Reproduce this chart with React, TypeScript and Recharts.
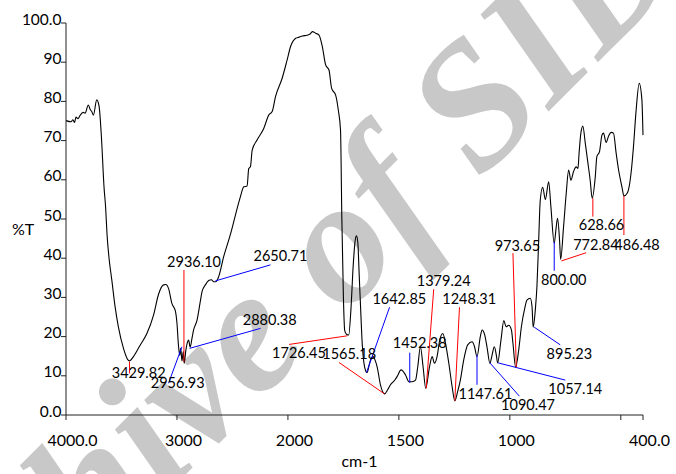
import React from "react";
import {
  ComposedChart,
  Line,
  XAxis,
  YAxis,
  ReferenceLine,
  ReferenceDot,
  Label,
} from "recharts";

// FTIR spectrum (cm-1, %T)
const wavenumbers = [
  4000, 3955, 3937, 3923, 3910, 3892, 3874, 3846, 3828, 3799, 3783, 3768, 3753, 3723, 3702,
  3681, 3657, 3643, 3630, 3612, 3587, 3557, 3528, 3482, 3445, 3430, 3392, 3332, 3271, 3211,
  3166, 3121, 3100, 3076, 3045, 3015, 3000, 2986, 2975, 2966, 2955, 2943, 2935, 2920, 2905,
  2895, 2881, 2865, 2850, 2819, 2790, 2774, 2744, 2714, 2690, 2668, 2650, 2624, 2579, 2519,
  2473, 2428, 2398, 2368, 2353, 2338, 2322, 2277, 2218, 2173, 2142, 2112, 2052, 2007,
  1988, 1965, 1950, 1935, 1913, 1900, 1890, 1875, 1860, 1845, 1830, 1815, 1803, 1785, 1773,
  1763, 1757, 1750, 1744, 1736, 1726, 1716, 1706, 1697, 1691, 1685, 1679, 1673, 1665, 1658,
  1650, 1643, 1635, 1628, 1616, 1606, 1598, 1583, 1565, 1550, 1538, 1520, 1508, 1490, 1470,
  1455, 1440, 1425, 1415, 1403, 1391, 1379, 1362, 1350, 1340, 1328, 1316, 1302, 1290, 1275,
  1260, 1248, 1235, 1223, 1208, 1190, 1170, 1160, 1148, 1133, 1125, 1113, 1103, 1090, 1080,
  1070, 1061, 1055, 1040, 1027, 1017, 1005, 993, 986, 974, 960, 948, 933, 923, 908,
  900, 895, 885, 878, 870, 863, 852, 840, 825, 815, 800, 791, 785, 776, 771,
  758, 746, 735, 725, 713, 701, 693, 688, 680, 671, 660, 648, 638, 629, 615,
  608, 596, 585, 578, 566, 555, 543, 533, 521, 510, 495, 486, 470, 454, 443,
  432, 417, 405, 400,
];

const transmittance = [
  75.1, 74.8, 75.3, 74.6, 76.0, 75.6, 76.4, 77.2, 77.0, 79.1, 78.0, 77.4, 76.5, 80.4, 78.8,
  71.0, 58.0, 53.0, 46.0, 40.0, 34.4, 27.5, 22.5, 17.0, 14.2, 13.8, 14.9, 17.8, 20.8, 25.5,
  30.8, 33.2, 33.3, 32.3, 28.4, 26.6, 23.4, 17.6, 15.2, 17.0, 13.8, 16.2, 13.2, 16.5, 18.6,
  19.1, 17.3, 19.5, 21.7, 24.2, 28.9, 31.5, 33.2, 34.3, 34.5, 34.0, 34.0, 35.3, 40.4, 46.0,
  51.0, 55.7, 58.2, 58.4, 62.9, 63.3, 67.6, 70.2, 73.1, 76.5, 77.4, 81.2, 85.9, 90.6,
  94.0, 96.1, 96.4, 96.7, 96.9, 97.2, 97.8, 97.4, 96.9, 94.0, 89.3, 88.0, 83.3, 81.6, 77.8,
  72.7, 50.0, 30.0, 21.5, 20.6, 20.4, 27.0, 38.0, 44.5, 45.7, 44.0, 36.0, 28.0, 18.0, 13.5,
  11.3, 10.8, 12.5, 14.0, 14.9, 13.8, 12.3, 7.7, 5.4, 6.5, 7.7, 8.8, 9.8, 11.5, 10.2,
  8.5, 8.5, 8.9, 12.3, 17.4, 12.3, 6.8, 12.3, 14.9, 13.2, 14.9, 19.1, 20.8, 18.3, 13.2,
  7.2, 3.6, 6.0, 8.9, 14.0, 17.9, 18.7, 17.6, 14.9, 20.0, 21.7, 20.4, 17.4, 13.2, 15.3,
  17.4, 15.3, 13.3, 19.1, 24.1, 22.5, 22.9, 21.7, 18.3, 12.2, 16.6, 22.5, 27.2, 29.3, 29.8,
  27.6, 22.4, 27.0, 32.7, 44.6, 54.8, 58.1, 55.0, 59.5, 53.1, 43.8, 48.0, 50.2, 44.6, 39.7,
  48.0, 56.5, 62.5, 59.9, 62.1, 63.3, 62.9, 66.8, 71.9, 73.7, 69.3, 64.2, 59.9, 55.3, 60.8,
  65.9, 67.2, 71.4, 71.9, 69.5, 71.2, 72.1, 71.9, 66.8, 62.5, 58.2, 55.9, 56.7, 61.6, 68.4,
  77.0, 84.6, 80.4, 71.4,
];

const xTickValues = [4000, 3000, 2000, 1500, 1000, 500, 400];
const xTickLabels = ["4000.0", "3000", "2000", "1500", "1000", "", "400.0"];
const yTickValues = [0, 10, 20, 30, 40, 50, 60, 70, 80, 90, 100];
const yTickLabels = ["0.0", "10", "20", "30", "40", "50", "60", "70", "80", "90", "100.0"];

// peak annotations: leader line from the band to the label
const peakNames = [
  "3429.82", "2956.93", "2936.10", "2880.38", "2650.71", "1726.45", "1565.18",
  "1642.85", "1452.38", "1379.24", "1248.31", "1147.61", "1090.47", "1057.14",
  "973.65", "895.23", "800.00", "772.84", "628.66", "486.48",
];
const leadFromW = [3428, 2955, 2937, 2886, 2654, 1733, 1565, 1646, 1451, 1377, 1248, 1148, 1090, 1053, 971, 890, 800, 768, 626, 486];
const leadFromT = [13.6, 17.4, 13.6, 17.0, 34.2, 20.2, 5.4, 10.8, 15.9, 6.8, 3.6, 15.3, 13.3, 13.3, 12.2, 22.4, 44.2, 39.3, 55.3, 55.9];
const leadToW = [3428, 3076, 2937, 2247, 2157, 1995, 1770, 1542, 1451, 1343, 1227, 1148, 957, 750, 986, 773, 800, 656, 626, 486];
const leadToT = [10.6, 8.1, 37.0, 22.1, 38.3, 18.0, 13.4, 27.5, 8.2, 32.1, 27.5, 7.7, 4.8, 8.9, 41.3, 17.9, 36.8, 41.4, 50.6, 45.9];
const labelW = [3345, 2993, 2846, 2164, 2067, 1950, 1724, 1498, 1406, 1298, 1183, 1110, 918, 705, 966, 732, 757, 612, 587, 427];
const labelT = [10.8, 8.2, 39.1, 24.4, 40.6, 15.9, 15.6, 29.7, 18.4, 34.2, 29.8, 5.4, 2.6, 6.8, 43.2, 15.6, 34.5, 43.4, 48.7, 43.4];

const redPeaks = new Set([
  "3429.82", "2936.10", "1726.45", "1565.18", "1379.24", "1248.31",
  "973.65", "772.84", "628.66", "486.48",
]);

const FONT = "Lato, 'Open Sans', sans-serif";

// axis is compressed 2x above 2000 cm-1, as on the instrument printout
const toPos = (w: number) => (w >= 2000 ? 4000 - w : 2000 + 2 * (2000 - w));

const spectrum = wavenumbers.map((w, i) => ({ pos: toPos(w), t: transmittance[i] }));
const xTickPositions = xTickValues.map(toPos);

function XTick(props: any) {
  const { x, y, payload } = props;
  const label = xTickLabels[xTickPositions.indexOf(payload.value)] ?? "";
  return (
    <text x={x + 6.5} y={y} dy={26} textAnchor="middle" fontFamily={FONT} fontSize={16} fill="#000">
      {label}
    </text>
  );
}

function YTick(props: any) {
  const { x, y, payload } = props;
  const label = yTickLabels[yTickValues.indexOf(payload.value)] ?? "";
  return (
    <text x={x + 0.5} y={y} dy={1.5} textAnchor="end" fontFamily={FONT} fontSize={15.5} fill="#000">
      {label}
    </text>
  );
}

export default function App() {
  return (
    <div style={{ position: "absolute", left: 0, top: 0, width: 676, height: 474, background: "#fff", overflow: "hidden" }}>
      <svg width={676} height={474} style={{ position: "absolute", left: 0, top: 0 }}>
        <text
          x={298}
          y={362}
          transform="rotate(-45 298 362)"
          textAnchor="middle"
          fontFamily="'Liberation Serif', serif"
          fontStyle="italic"
          fontWeight="bold"
          fontSize={178}
          fill="#c8c8c8"
        >
          Archive of SID
        </text>
      </svg>
      <div style={{ position: "absolute", left: 0, top: 0 }}>
        <ComposedChart
          width={676}
          height={474}
          data={spectrum}
          margin={{ top: 23, right: 33, left: 0, bottom: 0 }}
        >
          <XAxis
            dataKey="pos"
            type="number"
            domain={[0, 5200]}
            ticks={xTickPositions}
            interval={0}
            tick={<XTick />}
            tickSize={5}
            tickMargin={0}
            height={59}
            axisLine={{ stroke: "#222" }}
            tickLine={{ stroke: "#222" }}
          >
            <Label value="cm-1" position="insideBottom" offset={7} dx={5} fontFamily={FONT} fontSize={16} fill="#000" />
          </XAxis>
          <YAxis
            type="number"
            domain={[0, 100]}
            ticks={yTickValues}
            interval={0}
            tick={<YTick />}
            tickSize={5}
            tickMargin={0}
            width={66}
            axisLine={{ stroke: "#222" }}
            tickLine={{ stroke: "#222" }}
          >
            <Label value="%T" position="insideLeft" offset={12} dy={10} fontFamily={FONT} fontSize={16} fill="#000" />
          </YAxis>
          <Line
            dataKey="t"
            type="monotone"
            stroke="#000"
            strokeWidth={1.1}
            dot={false}
            activeDot={false}
            isAnimationActive={false}
          />
          {peakNames.map((name, i) => (
            <ReferenceLine
              key={"l" + name}
              segment={[
                { x: toPos(leadFromW[i]), y: leadFromT[i] },
                { x: toPos(leadToW[i]), y: leadToT[i] },
              ]}
              stroke={redPeaks.has(name) ? "#ff0000" : "#0000ff"}
              strokeWidth={1}
            />
          ))}
          {peakNames.map((name, i) => (
            <ReferenceDot
              key={"d" + name}
              x={toPos(labelW[i])}
              y={labelT[i]}
              r={0}
              shape={(p: any) => (
                <text
                  x={p.cx}
                  y={p.cy}
                  textAnchor="middle"
                  dominantBaseline="central"
                  fontFamily={FONT}
                  fontSize={14.5}
                  fill="#000"
                >
                  {name}
                </text>
              )}
            />
          ))}
        </ComposedChart>
      </div>
    </div>
  );
}
